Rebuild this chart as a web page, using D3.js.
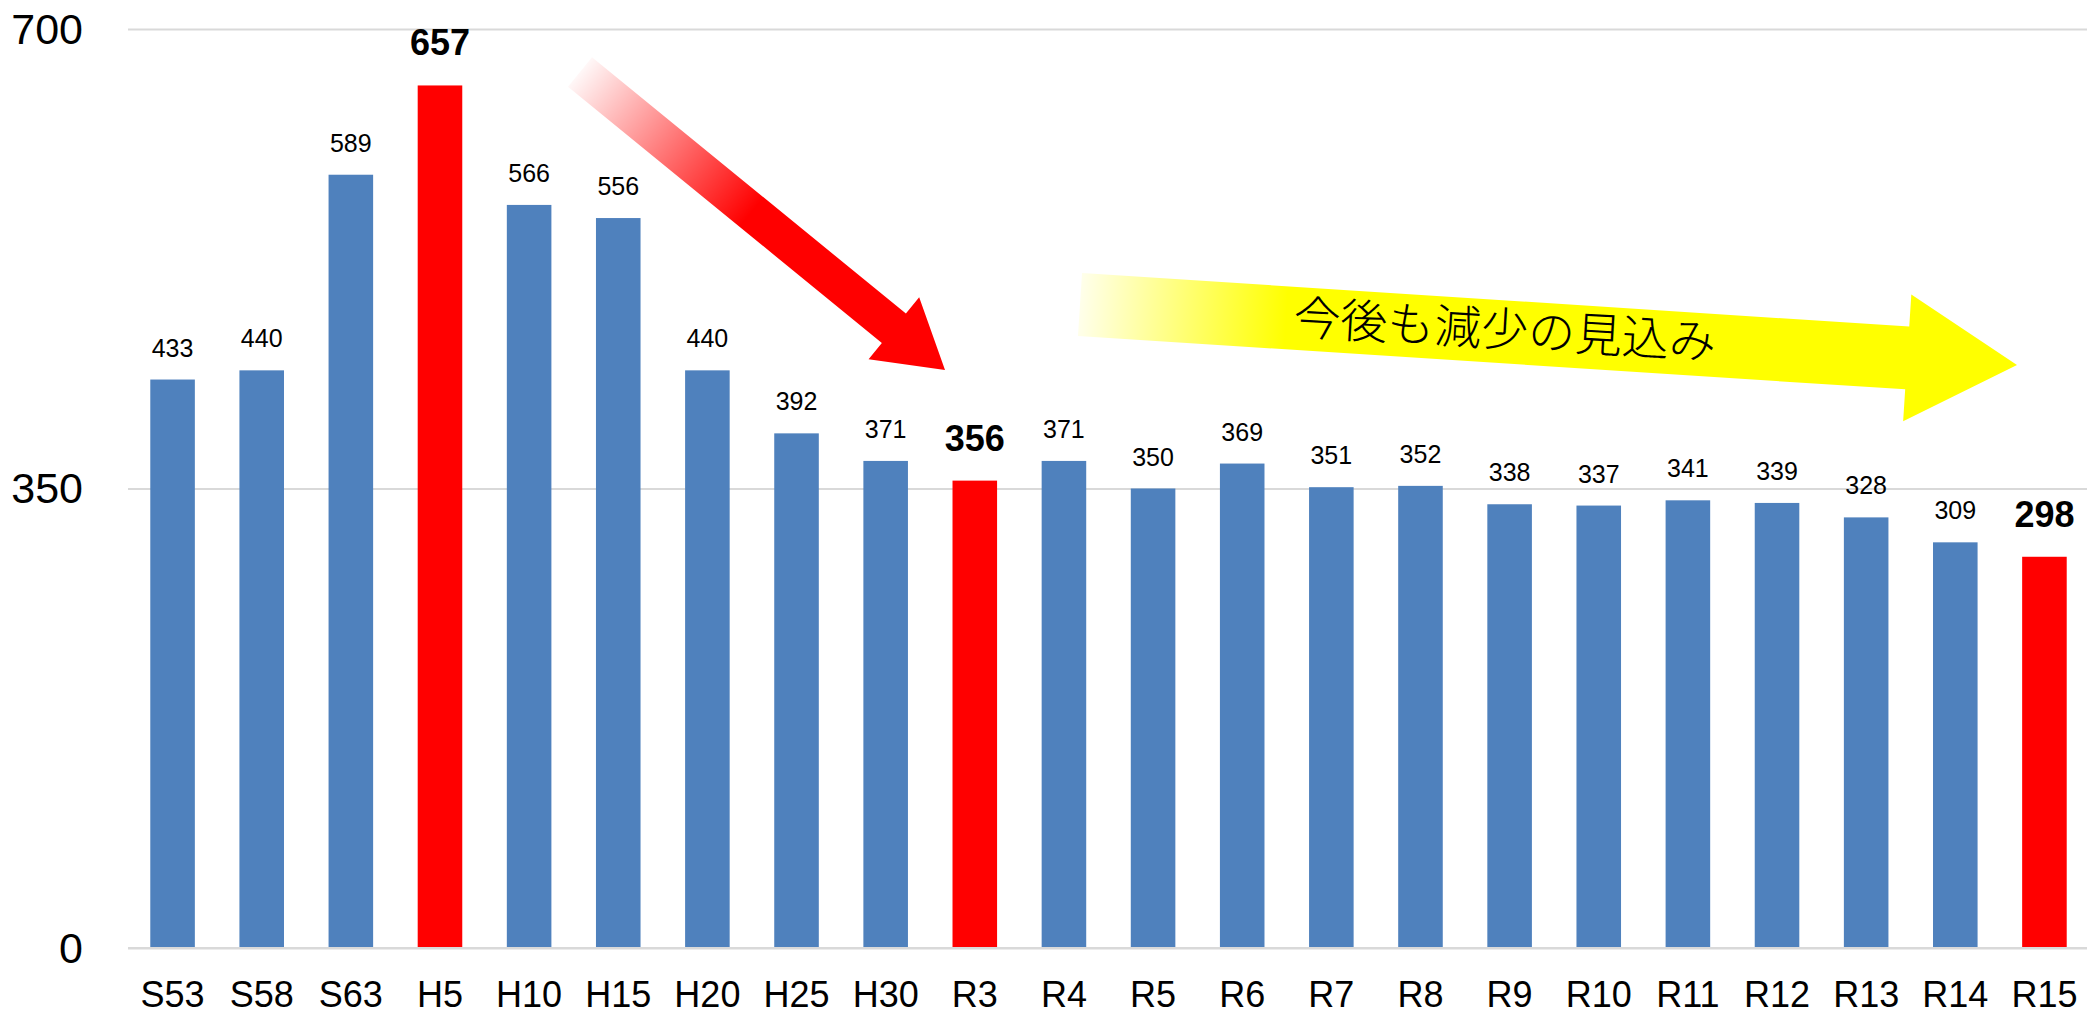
<!DOCTYPE html>
<html lang="ja">
<head>
<meta charset="utf-8">
<script src="https://cdn.jsdelivr.net/npm/d3@7"></script>
<style>
  html, body { margin: 0; padding: 0; background: #fff; }
  svg { display: block; }
  text { font-family: "Liberation Sans", Arial, sans-serif; }
</style>
</head>
<body>
<script>
// Survey years (Showa / Heisei / Reiwa) and their counts
const categories = ["S53","S58","S63","H5","H10","H15","H20","H25","H30","R3","R4","R5","R6","R7","R8","R9","R10","R11","R12","R13","R14","R15"];
const values = [433,440,589,657,566,556,440,392,371,356,371,350,369,351,352,338,337,341,339,328,309,298];
// Years singled out in red with bold labels
const highlighted = ["H5","R3","R15"];
const yTicks = [0, 350, 700];
const yDomain = [0, 700];
const trendText = "今後も減少の見込み";

const W = 2087, H = 1016;
const margin = { left: 128, right: 0, top: 29, bottom: 68 };

const svg = d3.select("body").append("svg")
  .attr("width", W).attr("height", H);

const x = d3.scaleBand()
  .domain(categories)
  .range([margin.left, W + 2])
  .paddingInner(0.5)
  .paddingOuter(0.25);

const y = d3.scaleLinear()
  .domain(yDomain)
  .range([H - margin.bottom, margin.top]);

const data = categories.map((c, i) => ({ cat: c, value: values[i], hi: highlighted.includes(c) }));

// Horizontal gridlines and tick labels
const yAxis = d3.axisLeft(y).tickValues(yTicks).tickSize(-(W - margin.left)).tickPadding(0);
const gy = svg.append("g")
  .attr("transform", `translate(${margin.left},0)`)
  .call(yAxis);
gy.select(".domain").remove();
gy.selectAll(".tick line").attr("stroke", "#d9d9d9").attr("stroke-width", 2);
gy.selectAll(".tick text")
  .attr("x", -45)
  .attr("dy", null)
  .attr("y", 14)
  .attr("fill", "#000")
  .style("font-size", "43px")
  .style("font-family", "'Liberation Sans', Arial, sans-serif");

// Bars
svg.append("g").selectAll("rect")
  .data(data)
  .join("rect")
  .attr("x", d => x(d.cat))
  .attr("width", x.bandwidth())
  .attr("y", d => y(d.value))
  .attr("height", d => y(0) - y(d.value))
  .attr("fill", d => d.hi ? "#ff0000" : "#4f81bd");

// Category axis
const xAxis = d3.axisBottom(x).tickSize(0).tickPadding(0);
const gx = svg.append("g")
  .attr("transform", `translate(0,${y(0)})`)
  .call(xAxis);
gx.select(".domain").remove();
gx.append("line")
  .attr("x1", margin.left).attr("x2", W)
  .attr("y1", 0).attr("y2", 0)
  .attr("stroke", "#d9d9d9").attr("stroke-width", 2);
gx.selectAll(".tick text")
  .attr("dy", null)
  .attr("y", 59)
  .attr("fill", "#000")
  .style("font-size", "36px")
  .style("font-family", "'Liberation Sans', Arial, sans-serif");

// Value labels above bars
svg.append("g").selectAll("text")
  .data(data)
  .join("text")
  .attr("x", d => x(d.cat) + x.bandwidth() / 2)
  .attr("y", d => y(d.value) - (d.hi ? 30 : 23))
  .attr("text-anchor", "middle")
  .attr("fill", "#000")
  .style("font-size", d => d.hi ? "36px" : "25px")
  .style("font-weight", d => d.hi ? "700" : "400")
  .text(d => d.value);

// Block arrow outline: tail centre, tip, shaft width, head width, head length
function arrowPoints(tail, tip, shaftW, headW, headL) {
  const dx = tip[0] - tail[0], dy = tip[1] - tail[1];
  const len = Math.hypot(dx, dy);
  const ux = dx / len, uy = dy / len;
  const px = -uy, py = ux;
  const base = [tip[0] - ux * headL, tip[1] - uy * headL];
  const p = (c, off) => [c[0] + px * off, c[1] + py * off];
  return [
    p(tail, -shaftW / 2), p(base, -shaftW / 2), p(base, -headW / 2),
    tip,
    p(base, headW / 2), p(base, shaftW / 2), p(tail, shaftW / 2)
  ];
}

const defs = svg.append("defs");

// Falling arrow: red fading in from the tail
const redTail = [580, 72], redTip = [945, 370];
const rg = defs.append("linearGradient").attr("id", "fallGrad")
  .attr("gradientUnits", "userSpaceOnUse")
  .attr("x1", redTail[0]).attr("y1", redTail[1])
  .attr("x2", redTip[0]).attr("y2", redTip[1]);
rg.append("stop").attr("offset", 0).attr("stop-color", "#ff0000").attr("stop-opacity", 0.03);
rg.append("stop").attr("offset", 0.47).attr("stop-color", "#ff0000").attr("stop-opacity", 1);
rg.append("stop").attr("offset", 1).attr("stop-color", "#ff0000").attr("stop-opacity", 1);

svg.append("polygon")
  .attr("points", arrowPoints(redTail, redTip, 38, 80, 66).map(p => p.join(",")).join(" "))
  .attr("fill", "url(#fallGrad)");

// Outlook arrow: yellow fading in from the tail
const yelTail = [1080, 304.5], yelTip = [2017, 365];
const yg = defs.append("linearGradient").attr("id", "outlookGrad")
  .attr("gradientUnits", "userSpaceOnUse")
  .attr("x1", yelTail[0]).attr("y1", yelTail[1])
  .attr("x2", yelTip[0]).attr("y2", yelTip[1]);
yg.append("stop").attr("offset", 0).attr("stop-color", "#ffff00").attr("stop-opacity", 0.08);
yg.append("stop").attr("offset", 0.22).attr("stop-color", "#ffff00").attr("stop-opacity", 1);
yg.append("stop").attr("offset", 1).attr("stop-color", "#ffff00").attr("stop-opacity", 1);

svg.append("polygon")
  .attr("points", arrowPoints(yelTail, yelTip, 63, 127, 110).map(p => p.join(",")).join(" "))
  .attr("fill", "url(#outlookGrad)");

svg.append("text")
  .attr("transform", "translate(1505,326) rotate(3.3)")
  .attr("text-anchor", "middle")
  .attr("dominant-baseline", "central")
  .attr("fill", "#000")
  .style("font-family", "'Noto Sans CJK JP', sans-serif")
  .style("font-weight", "300")
  .style("font-size", "47px")
  .text(trendText);
</script>
</body>
</html>
